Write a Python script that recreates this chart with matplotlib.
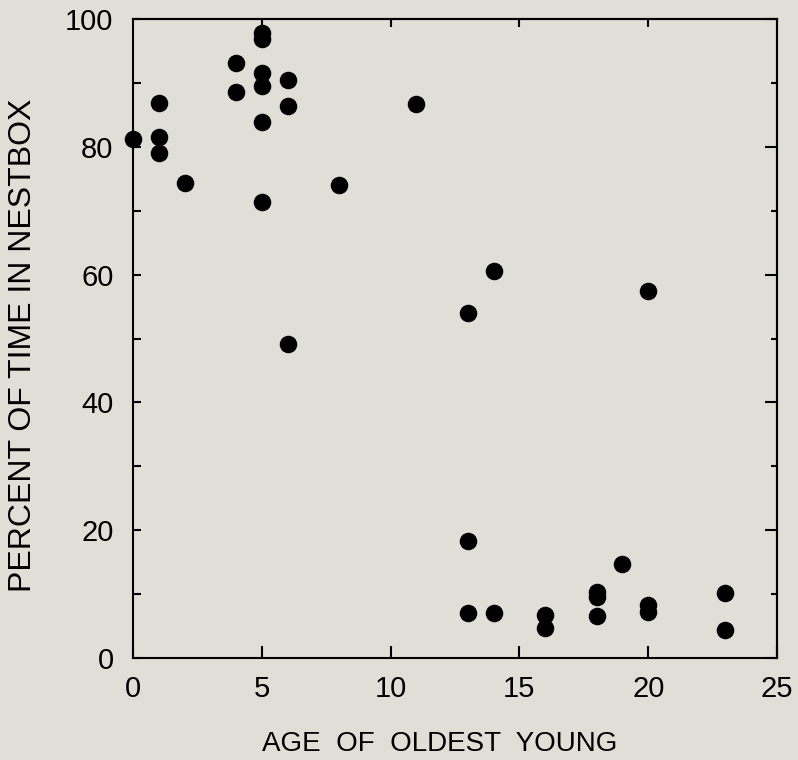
import matplotlib
matplotlib.use("Agg")
import matplotlib.pyplot as plt

# age of oldest young (days) vs percent of time in nestbox
age = [0, 1, 1, 1, 2, 4, 4, 5, 5, 5, 5, 5, 5, 6, 6, 6, 8, 11,
       13, 13, 13, 14, 14, 16, 16, 18, 18, 18, 19, 20, 20, 20, 23, 23]
pct = [81.2, 86.9, 81.6, 79.0, 74.4, 93.1, 88.6, 97.8, 96.9, 91.6, 89.5, 83.9, 71.3,
       90.5, 86.4, 49.1, 74.0, 86.7, 54.0, 18.3, 7.0, 60.6, 7.1, 6.7, 4.7,
       10.3, 9.5, 6.6, 14.7, 57.4, 8.3, 7.2, 10.1, 4.4]

x_ticks = [0, 5, 10, 15, 20, 25]
y_ticks = [0, 20, 40, 60, 80, 100]
y_minor = [10, 30, 50, 70, 90]

BG = "#dfdfd8"
plt.rcParams["font.family"] = ["Liberation Sans", "DejaVu Sans"]

fig = plt.figure(figsize=(7.98, 7.6), dpi=100, facecolor=BG)
ax = fig.add_axes([0.1667, 0.1342, 0.8070, 0.8408])
ax.set_facecolor(BG)

ax.scatter(age, pct, s=135, color="black", zorder=3, clip_on=False)

ax.set_xlim(0, 25)
ax.set_ylim(0, 100)
ax.set_xticks(x_ticks)
ax.set_yticks(y_ticks)
ax.set_yticks(y_minor, minor=True)

for s in ax.spines.values():
    s.set_linewidth(1.5)

ax.tick_params(axis="x", direction="in", length=9, width=1.5, labelsize=21, pad=12)
ax.tick_params(axis="y", which="both", direction="in", length=6, width=1.5, labelsize=21, pad=14)

# right and top ticks without labels
ax_r = ax.secondary_yaxis("right")
ax_r.set_yticks(y_ticks)
ax_r.set_yticks(y_minor, minor=True)
ax_r.tick_params(which="major", direction="in", length=9, width=1.5, labelright=False)
ax_r.tick_params(which="minor", direction="in", length=4.5, width=1.5)
ax_r.spines["right"].set_linewidth(1.5)

ax_t = ax.secondary_xaxis("top")
ax_t.set_xticks([5, 10, 15, 20])
ax_t.tick_params(direction="in", length=6, width=1.5, labeltop=False)
ax_t.spines["top"].set_linewidth(1.5)

fig.text(0.551, 0.021, "AGE  OF  OLDEST  YOUNG", fontsize=20, ha="center", va="center")
fig.text(0.029, 0.546, "PERCENT OF TIME IN NESTBOX", fontsize=23, rotation=90,
         ha="center", va="center")

fig.savefig("out.png", dpi=100, facecolor=BG)
